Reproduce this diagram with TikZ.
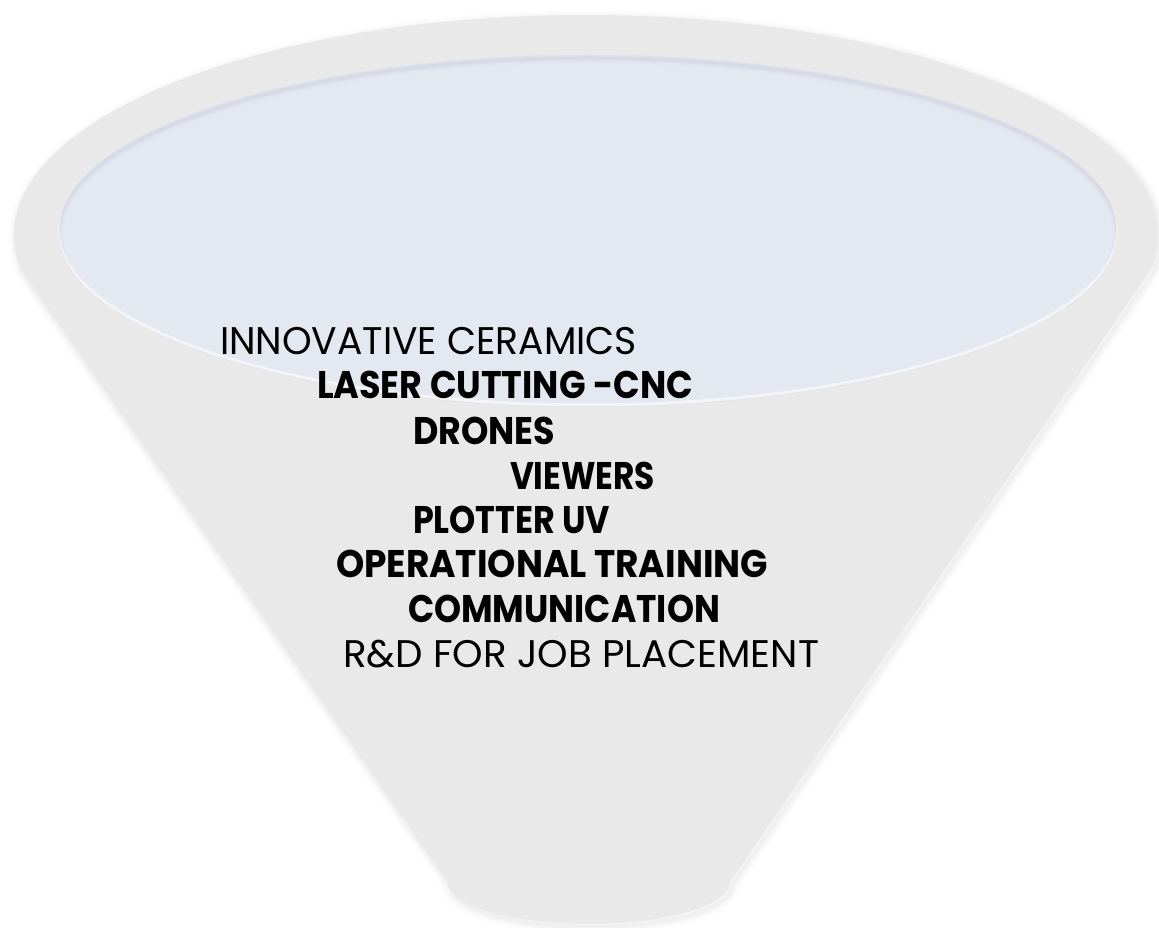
\documentclass[tikz,border=0pt]{standalone}
\usepackage{fontspec}
\setmainfont{Poppins}
\usepackage{graphicx}
\definecolor{funnelgray}{RGB}{233,233,233}
\definecolor{innerblue}{RGB}{228,232,241}
\definecolor{shadowc}{RGB}{110,110,110}
\definecolor{innershade}{RGB}{150,160,185}
\newcommand{\fitline}[2]{\resizebox{#1pt}{\height}{#2}}
\begin{document}
\begin{tikzpicture}[x=1pt,y=1pt,
  funnelshape/.style={insert path={(21.3,658) arc[start angle=189.15, end angle=-9.15, x radius=572, y radius=220]
      -- (730,46) arc[start angle=0, end angle=-180, x radius=141, y radius=42] -- cycle}},
  innershape/.style={insert path={(588,697) ellipse [x radius=530, y radius=176]}},
  lbl/.style={anchor=base west, inner sep=0pt, outer sep=0pt, text=black, font=\fontsize{38.5}{40}\selectfont},
  lblb/.style={lbl, font=\fontsize{38.5}{40}\selectfont\bfseries}]
\useasboundingbox (0,0) rectangle (1159,928);
% soft drop shadow of the funnel
\foreach \w/\o in {16/0.015, 12/0.02, 8/0.03, 4/0.04}
  \draw[shadowc, line width=\w, opacity=\o, line join=round, shift={(2,-3)}, funnelshape];
\fill[funnelgray, funnelshape];
% inner ellipse
\fill[innerblue, innershape];
\begin{scope}
  \clip[innershape];
  \foreach \w/\o in {10/0.04, 6/0.06, 3/0.08}
    \draw[innershade, line width=\w, opacity=\o, shift={(0,-3)}, innershape];
  \draw[white, line width=3, opacity=0.6, shift={(0,2)}, innershape];
\end{scope}
% labels
\node[lbl]  (t1) at (220,573) {\fitline{417}{INNOVATIVE CERAMICS}};
\node[lblb] (t2) at (317,529) {\fitline{376}{LASER CUTTING -CNC}};
\node[lblb] (t3) at (413,483) {\fitline{142}{DRONES}};
\node[lblb] (t4) at (510,438) {\fitline{145}{VIEWERS}};
\node[lblb] (t5) at (413,394) {\fitline{197}{PLOTTER UV}};
\node[lblb] (t6) at (336,350) {\fitline{432}{OPERATIONAL TRAINING}};
\node[lblb] (t7) at (408,305) {\fitline{312}{COMMUNICATION}};
\node[lbl]  (t8) at (343,260) {\fitline{476}{R\&D FOR JOB PLACEMENT}};
\end{tikzpicture}
\end{document}
